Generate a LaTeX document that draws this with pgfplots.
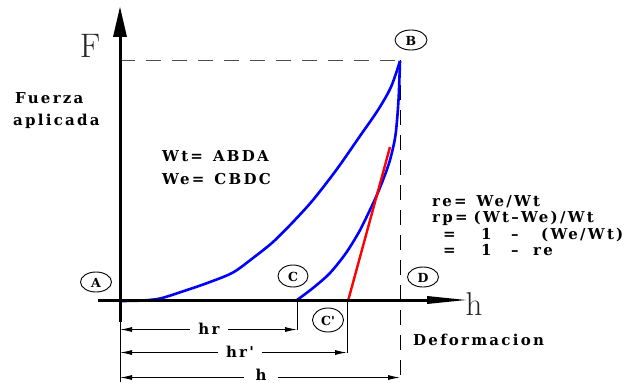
\documentclass[border=0pt]{standalone}
\usepackage{pgfplots}
\pgfplotsset{compat=1.18}
\usepackage{fontspec}
\usetikzlibrary{arrows.meta}
\newfontfamily\lbl{DejaVu Serif}[LetterSpace=15]
\newfontfamily\circf{DejaVu Serif}
\newcommand{\tx}{\lbl\bfseries\fontsize{15}{17}\selectfont}
\newcommand{\cf}{\circf\bfseries\fontsize{12.5}{14}\selectfont}
\begin{document}
\begin{tikzpicture}
\begin{axis}[hide axis, scale only axis, width=628pt, height=382pt,
  xmin=0, xmax=628, ymin=0, ymax=382, y dir=reverse, clip=false]
\path (axis cs:0,0) rectangle (axis cs:628,382);
% dashed guides
\draw[black!70, line width=1pt, dash pattern=on 15pt off 11pt] (axis cs:120,60) -- (axis cs:400,60);
\draw[black, line width=1pt, dash pattern=on 15pt off 10pt] (axis cs:400,60) -- (axis cs:400,382);
% thin extension lines
\draw[line width=1pt] (axis cs:120,300) -- (axis cs:120,382);
\draw[line width=1pt] (axis cs:297,300) -- (axis cs:297,330);
\draw[line width=1pt] (axis cs:347,300) -- (axis cs:347,353);
% curves
\addplot[blue, line width=2.6pt, smooth, tension=0.5] coordinates {(120,301) (140,300.6) (160,298.5) (187,290) (210,282) (233,272.5) (253,258) (273,242) (293,222) (313,200) (337,169) (360,136) (378,110) (391,87) (400,61)};
\addplot[blue, line width=2.6pt, smooth, tension=0.5] coordinates {(400,61) (398.5,100) (395.5,135) (390,160) (383,180) (376,197) (368,214) (359,232) (346,253) (330,273) (313,288) (297,300)};
\addplot[red, line width=2.4pt] coordinates {(348,301) (390,147)};
% axes
\draw[line width=3pt] (axis cs:120,37) -- (axis cs:120,322);
\fill (axis cs:120,7) -- (axis cs:113,37) -- (axis cs:127,37) -- cycle;
\draw[line width=3pt] (axis cs:98,300) -- (axis cs:430,300);
\fill (axis cs:466,300) -- (axis cs:427,296) -- (axis cs:427,304) -- cycle;
% dimension lines
\draw[line width=1pt, {Latex[length=12pt,width=5pt]}-{Latex[length=12pt,width=5pt]}] (axis cs:120,329.5) -- (axis cs:297,329.5);
\draw[line width=1pt, {Latex[length=12pt,width=5pt]}-{Latex[length=12pt,width=5pt]}] (axis cs:120,352.5) -- (axis cs:347,352.5);
\draw[line width=1pt, {Latex[length=12pt,width=5pt]}-{Latex[length=12pt,width=5pt]}] (axis cs:120,377.5) -- (axis cs:400,377.5);
\node[fill=white, inner xsep=8pt, inner ysep=1pt, anchor=base, font=\tx] at (axis cs:209,334) {hr};
\node[fill=white, inner xsep=8pt, inner ysep=1pt, anchor=base, font=\tx] at (axis cs:240,357) {hr'};
\node[fill=white, inner xsep=12pt, inner ysep=1pt, anchor=base, font=\tx] at (axis cs:261,380) {h};
% circles
\draw[line width=0.9pt] (axis cs:411,40) ellipse [x radius=16, y radius=10];
\node[font=\cf] at (axis cs:411,40.5) {B};
\draw[line width=0.9pt] (axis cs:96,282) ellipse [x radius=15.5, y radius=10];
\node[font=\cf] at (axis cs:96,282.5) {A};
\draw[line width=0.9pt] (axis cs:293,276) ellipse [x radius=15, y radius=11];
\node[font=\cf] at (axis cs:293,276.5) {C};
\draw[line width=0.9pt] (axis cs:423,277) ellipse [x radius=15.5, y radius=10];
\node[font=\cf] at (axis cs:423,277.5) {D};
\draw[line width=0.9pt] (axis cs:328,320) ellipse [x radius=15.5, y radius=12];
\node[font=\cf] at (axis cs:328,320.5) {C'};
% big letters
\node[black!85, font=\fontsize{34}{36}\selectfont, anchor=base] at (axis cs:90,57) {F};
\node[black!85, font=\fontsize{33}{36}\selectfont, anchor=base west] at (axis cs:462,315) {h};
% texts
\node[anchor=base west, font=\tx, inner sep=0pt] at (axis cs:15,103) {Fuerza};
\node[anchor=base west, font=\tx, inner sep=0pt] at (axis cs:13,125) {aplicada};
\node[anchor=base west, font=\tx, inner sep=0pt] at (axis cs:162,161.5) {Wt=\hspace{10pt}ABDA};
\node[anchor=base west, font=\tx, inner sep=0pt] at (axis cs:162,184.5) {We=\hspace{10pt}CBDC};
\node[anchor=base west, font=\tx, inner sep=0pt] at (axis cs:432,206) {re=\hspace{10pt}We/Wt};
\node[anchor=base west, font=\tx, inner sep=0pt] at (axis cs:432,222.5) {rp=\hspace{6pt}(Wt\textendash We)/Wt};
\node[anchor=base west, font=\tx, inner sep=0pt] at (axis cs:443,239) {=};
\node[anchor=base west, font=\tx, inner sep=0pt] at (axis cs:481,239) {1};
\node[anchor=base west, font=\tx, inner sep=0pt] at (axis cs:511,239) {\textendash};
\node[anchor=base west, font=\tx, inner sep=0pt] at (axis cs:541,239) {(We/Wt)};
\node[anchor=base west, font=\tx, inner sep=0pt] at (axis cs:443,255) {=};
\node[anchor=base west, font=\tx, inner sep=0pt] at (axis cs:481,255) {1};
\node[anchor=base west, font=\tx, inner sep=0pt] at (axis cs:511,255) {\textendash};
\node[anchor=base west, font=\tx, inner sep=0pt] at (axis cs:533,255) {re};
\node[anchor=base west, font=\tx, inner sep=0pt] at (axis cs:413,345.5) {Deformacion};
\end{axis}
\end{tikzpicture}
\end{document}
